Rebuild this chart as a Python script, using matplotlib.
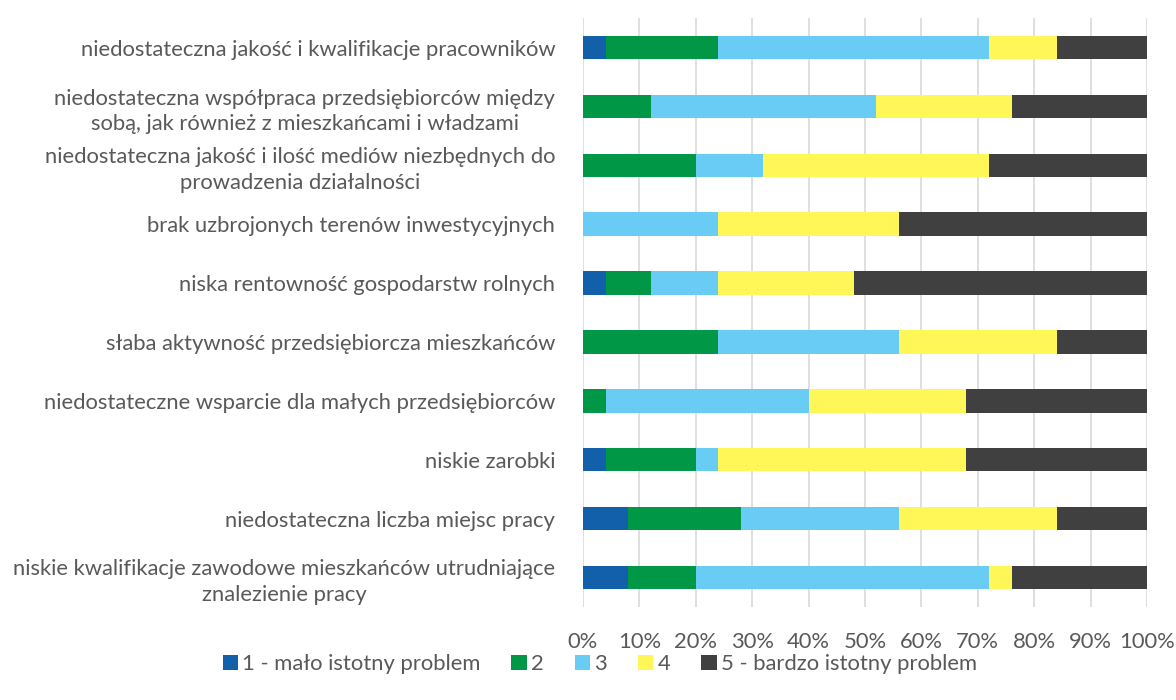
import matplotlib.pyplot as plt
import numpy as np
from matplotlib.ticker import PercentFormatter

plt.rcParams['font.family'] = ['Lato', 'DejaVu Sans']

kategorie = [
    "niedostateczna jakość i kwalifikacje pracowników",
    "niedostateczna współpraca przedsiębiorców między\nsobą, jak również z mieszkańcami i władzami",
    "niedostateczna jakość i ilość mediów niezbędnych do\nprowadzenia działalności",
    "brak uzbrojonych terenów inwestycyjnych",
    "niska rentowność gospodarstw rolnych",
    "słaba aktywność przedsiębiorcza mieszkańców",
    "niedostateczne wsparcie dla małych przedsiębiorców",
    "niskie zarobki",
    "niedostateczna liczba miejsc pracy",
    "niskie kwalifikacje zawodowe mieszkańców utrudniające\nznalezienie pracy",
]

# udział odpowiedzi (%) dla ocen 1-5
ocena_1 = [4, 0, 0, 0, 4, 0, 0, 4, 8, 8]
ocena_2 = [20, 12, 20, 0, 8, 24, 4, 16, 20, 12]
ocena_3 = [48, 40, 12, 24, 12, 32, 36, 4, 28, 52]
ocena_4 = [12, 24, 40, 32, 24, 28, 28, 44, 28, 4]
ocena_5 = [16, 24, 28, 44, 52, 16, 32, 32, 16, 24]

serie = [ocena_1, ocena_2, ocena_3, ocena_4, ocena_5]
etykiety = ["1 - mało istotny problem", "2", "3", "4", "5 - bardzo istotny problem"]
kolory = ['#1360AA', '#009846', '#69CCF5', '#FFF757', '#404040']

szary = '#595959'
rozmiar = 15.8

fig = plt.figure(figsize=(11.76, 7), dpi=100)
ax = fig.add_axes([0.4957, 0.133, 0.4796, 0.841])

y = np.arange(len(kategorie))
lewo = np.zeros(len(kategorie))
for wart, lab, kol in zip(serie, etykiety, kolory):
    wart = np.array(wart, dtype=float)
    ax.barh(y, wart, left=lewo, height=0.4, color=kol, label=lab, zorder=3)
    lewo += wart

ax.set_xlim(0, 100)
ax.set_ylim(len(kategorie) - 0.5, -0.5)
ax.set_yticks(y)
ax.set_yticklabels(kategorie, ha='right', multialignment='center')
ax.set_xticks(np.arange(0, 101, 10))
ax.xaxis.set_major_formatter(PercentFormatter(decimals=0))

ax.grid(axis='x', color='#D9D9D9', linewidth=1.2, zorder=0)
for s in ax.spines.values():
    s.set_visible(False)
ax.tick_params(axis='both', length=0, colors=szary, labelsize=rozmiar)
ax.tick_params(axis='x', pad=18)
ax.tick_params(axis='y', pad=20)
for t in ax.get_yticklabels():
    t.set_linespacing(1.35)

ax.legend(loc='center', bbox_to_anchor=(0.51, 0.051), bbox_transform=fig.transFigure,
          ncol=5, frameon=False, fontsize=rozmiar, labelcolor=szary,
          handlelength=0.7, handleheight=0.7, handletextpad=0.2, columnspacing=1.4)

fig.savefig('out.png', dpi=100)
